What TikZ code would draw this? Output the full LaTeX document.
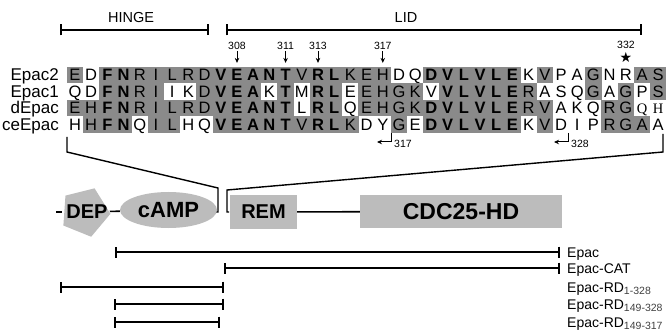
\documentclass[tikz,border=0pt]{standalone}
\usepackage{fontspec}
\setmainfont{Liberation Sans}
\newfontfamily\qhfont{Liberation Serif}
\newfontfamily\starfont{DejaVu Sans}
\usetikzlibrary{arrows.meta,shapes.geometric}
\definecolor{aligngray}{RGB}{138,138,138}
\definecolor{domgray}{RGB}{188,188,188}
\newcommand{\fs}[1]{\fontsize{#1}{#1}\selectfont}
\newcommand{\rdsub}[1]{\raisebox{-2.5pt}{\fs{10.5}\color{black!75}#1}}
\tikzset{
  res/.style={inner sep=0pt,minimum width=16.5pt,minimum height=16.8pt,text height=12pt,text depth=0pt},
  span/.style={line width=1.6pt,{Bar[width=11pt]}-{Bar[width=11pt]}},
  num/.style={font=\fs{10.5},inner sep=1.5pt},
  zoomline/.style={line width=1.4pt},
  domline/.style={line width=1.6pt},
  dom/.style={fill=domgray,inner sep=0pt},
  cname/.style={font=\fs{14},anchor=base west,inner sep=0pt}
}

\begin{document}
\begin{tikzpicture}[x=1pt,y=-1pt,>={Stealth[length=5pt,width=4.5pt]}]
    \useasboundingbox (0,0) rectangle (667,334);
    % hinge and lid
    \coordinate (hs) at (60,30); \coordinate (he) at (209,30);
    \coordinate (ls) at (226,30); \coordinate (le) at (642,30);
    \draw[span] (hs) -- (he);
    \draw[span] (ls) -- (le);
    \node[font=\fs{14.5}] (hinge) at (131,18) {HINGE};
    \node[font=\fs{14.5}] (lid) at (406,18) {LID};
    % alignment: 0 plain, 1 shaded, 2 shaded and bold, 3 serif
    \foreach \seq [count=\r] in {
      {E/1,D/0,F/2,N/2,R/1,I/1,L/1,R/1,D/1,V/2,E/2,A/2,N/2,T/2,V/1,R/2,L/2,K/1,E/1,H/1,D/0,Q/0,D/2,V/2,L/2,V/2,L/2,E/2,K/0,V/1,P/0,A/0,G/1,N/0,R/0,A/1,S/1},
      {Q/0,D/0,F/2,N/2,R/1,I/1,I/0,K/0,D/1,V/2,E/2,A/2,K/0,T/2,M/0,R/2,L/2,E/0,E/1,H/1,G/1,K/1,V/0,V/2,L/2,V/2,L/2,E/2,R/1,A/0,S/0,Q/0,G/1,A/0,G/1,P/0,S/1},
      {E/1,H/1,F/2,N/2,R/1,I/1,L/1,R/1,D/1,V/2,E/2,A/2,N/2,T/2,L/0,R/2,L/2,Q/0,E/1,H/1,G/1,K/1,D/2,V/2,L/2,V/2,L/2,E/2,R/1,V/1,A/0,K/0,Q/0,R/1,G/1,Q/3,H/3},
      {H/0,H/1,F/2,N/2,Q/0,I/1,L/1,H/0,Q/0,V/2,E/2,A/2,N/2,T/2,V/1,R/2,L/2,K/1,D/0,Y/0,G/1,E/0,D/2,V/2,L/2,V/2,L/2,E/2,K/0,V/1,D/0,I/0,P/0,R/1,G/1,A/1,A/0}}{
      \foreach \aa/\sh [count=\c] in \seq {
        \ifcase\sh \def\cfill{none}\def\cfont{\fs{16.5}}%
        \or \def\cfill{aligngray}\def\cfont{\fs{16.5}}%
        \or \def\cfill{aligngray}\def\cfont{\fs{16.5}\bfseries}%
        \or \def\cfill{none}\def\cfont{\qhfont\fs{14.5}}%
        \fi
        \node[res,fill=\cfill,font=\cfont] (a\r-\c) at ({75+16.2*(\c-1)},{75+16.5*(\r-1)}) {\aa};
      }
    }
    \foreach \nm [count=\r] in {Epac2,Epac1,dEpac,ceEpac}
      \node[font=\fs{17},anchor=base east,inner sep=0pt] (name\r) at (59,{81+16.5*(\r-1)}) {\nm};
    % residue numbers
    \foreach \num/\col in {308/11,311/14,313/16,317/20}{
      \node[num] (n\num) at ({75+16.2*(\col-1)},46) {\num};
      \draw[->,line width=1pt,shorten >=3.5pt] (n\num) -- (a1-\col);
    }
    \node[num] (n332) at (626,45) {332};
    \node[font=\starfont\fs{14},inner sep=0pt] (star) at (626,57.5) {★};
    % truncation points
    \coordinate (t317) at (391,133); \coordinate (e317) at (377,142);
    \draw[->,line width=1pt] (t317) |- (e317);
    \node[num,anchor=base west,inner sep=0pt] (m317) at (394,148) {317};
    \coordinate (t328) at (568,133); \coordinate (e328) at (554,142);
    \draw[->,line width=1pt] (t328) |- (e328);
    \node[num,anchor=base west,inner sep=0pt] (m328) at (571,148) {328};
    % zoom lines to the domain bar
    \coordinate (z1) at (67,137); \coordinate (z2) at (67,152);
    \coordinate (z3) at (218,188); \coordinate (z4) at (218,212);
    \coordinate (z5) at (216,212);
    \draw[zoomline] (z1) -- (z2) -- (z3) -- (z4) -- (z5);
    \coordinate (w1) at (663,134); \coordinate (w2) at (663,152);
    \coordinate (w3) at (227,190); \coordinate (w4) at (227,212);
    \coordinate (w5) at (229,212);
    \draw[zoomline] (w1) -- (w2) -- (w3) -- (w4) -- (w5);
    % domains
    \node[dom,regular polygon,regular polygon sides=5,minimum size=51pt,shape border rotate=-22] (deppent) at (85,212) {};
    \node[font=\fs{20}\bfseries,inner sep=0pt] (dep) at (87,212) {DEP};
    \node[dom,ellipse,minimum width=97pt,minimum height=36pt,font=\fs{22}\bfseries] (camp) at (168.5,210) {cAMP};
    \node[dom,minimum width=67pt,minimum height=33pt,font=\fs{20}\bfseries] (rem) at (263.5,212) {REM};
    \node[dom,minimum width=202pt,minimum height=32pt,font=\fs{23}\bfseries] (cdc) at (461,211.5) {CDC25-HD};
    \coordinate (nterm) at (56,212);
    \draw[domline,shorten >=4pt] (nterm) -- (dep.west);
    \draw[domline,shorten <=2pt] (dep) -- (camp);
    \draw[domline] (rem) -- (cdc);
    % constructs
    \coordinate (e1a) at (115,252); \coordinate (e1b) at (560,252);
    \coordinate (e2a) at (224,268); \coordinate (e2b) at (560,268);
    \coordinate (e3a) at (60,287);  \coordinate (e3b) at (224,287);
    \coordinate (e4a) at (114,304); \coordinate (e4b) at (224,304);
    \coordinate (e5a) at (114,322); \coordinate (e5b) at (220,322);
    \foreach \k in {1,...,5}
      \draw[span] (e\k a) -- (e\k b);
    \node[cname] (lab1) at (567,257) {Epac};
    \node[cname] (lab2) at (567,273) {Epac-CAT};
    \node[cname] (lab3) at (567,292) {Epac-RD\rdsub{1-328}};
    \node[cname] (lab4) at (567,309) {Epac-RD\rdsub{149-328}};
    \node[cname] (lab5) at (567,327) {Epac-RD\rdsub{149-317}};
\end{tikzpicture}
\end{document}
